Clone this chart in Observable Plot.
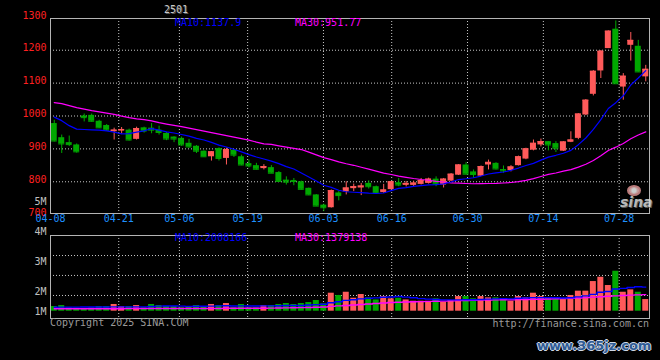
<!DOCTYPE html>
<html><head><meta charset="utf-8">
<script src="https://cdn.jsdelivr.net/npm/d3@7"></script>
<script src="https://cdn.jsdelivr.net/npm/@observablehq/plot@0.6"></script>
<style>
html,body{margin:0;padding:0;background:#000;}
#wrap{position:relative;width:660px;height:360px;background:#000;overflow:hidden;}
#wrap svg{position:absolute;left:0;}
.lbl{position:absolute;font:10px "DejaVu Sans Mono",monospace;line-height:10px;white-space:nowrap;}
</style></head><body><div id="wrap"></div>
<script>
// ---- data ----
const dates = ["04-08","04-09","04-10","04-11","04-14","04-15","04-16","04-17","04-18","04-21",
"04-22","04-23","04-24","04-25","04-28","04-29","04-30","05-06","05-07","05-08",
"05-09","05-12","05-13","05-14","05-15","05-16","05-19","05-20","05-21","05-22",
"05-23","05-26","05-27","05-28","05-29","05-30","06-03","06-04","06-05","06-06",
"06-09","06-10","06-11","06-12","06-13","06-16","06-17","06-18","06-19","06-20",
"06-23","06-24","06-25","06-26","06-27","06-30","07-01","07-02","07-03","07-04",
"07-07","07-08","07-09","07-10","07-11","07-14","07-15","07-16","07-17","07-18",
"07-21","07-22","07-23","07-24","07-25","07-28","07-29","07-30","07-31","08-01"];
const open = [977,934,919,912,1000,1002,984,971,952,954,
957,929,964,963,957,947,936,932,917,908,
893,876,901,871,896,876,855,849,840,843,
828,805,804,800,780,760,729,721,766,769,
779,781,795,785,767,776,797,789,789,792,
795,808,790,802,820,851,830,817,851,856,
837,834,849,869,896,912,922,916,893,920,
932,1003,1066,1137,1205,1264,1088,1215,1212,1119];
const high = [987,942,939,915,1006,1006,987,974,963,965,
960,966,966,977,969,950,937,936,929,910,
894,892,903,902,898,881,866,856,852,849,
831,815,810,802,781,761,732,775,770,800,
793,795,803,787,792,801,810,801,802,810,
811,815,810,825,852,858,836,848,866,858,
848,849,878,902,927,930,922,922,922,952,
1007,1050,1138,1199,1259,1289,1129,1254,1230,1154];
const low = [921,886,907,887,982,981,962,954,927,945,
924,927,948,946,942,925,919,908,902,886,
875,863,863,851,874,849,842,836,836,825,
800,790,788,775,758,725,709,720,742,760,
770,758,778,766,765,775,785,784,783,790,
793,785,781,801,819,822,810,816,836,836,
826,830,848,867,894,906,894,889,892,919,
928,1001,1061,1114,1205,1097,1048,1167,1133,1104];
const close = [924,915,913,891,995,984,964,957,957,959,
927,962,954,957,950,930,930,912,906,893,
876,891,871,898,881,851,848,838,846,826,
801,799,801,777,760,726,721,773,758,781,
785,787,785,767,775,800,790,795,796,804,
808,793,808,823,851,823,822,846,859,839,
833,845,876,900,917,922,912,902,921,927,
1006,1048,1136,1197,1258,1098,1121,1230,1134,1142];
const ma10 = [996.5,985.9,970.7,960,959,958,957,954.6,951,945.9,
946.2,950.9,955.0,961.6,957.1,951.7,948.3,943.8,938.7,932.1,
927.0,919.9,911.6,905.7,898.8,890.9,882.7,875.3,869.3,862.6,
855.1,845.9,838.9,826.8,814.7,802.2,789.5,783.0,774.2,769.7,
768.1,766.9,765.3,764.3,765.8,773.2,780.1,782.3,786.1,788.4,
790.7,791.3,793.6,799.2,806.8,809.1,812.3,817.4,823.7,827.2,
829.7,834.9,841.7,849.4,856.0,865.9,874.9,880.5,886.7,895.5,
912.8,933.1,959.1,988.8,1022.9,1040.5,1061.4,1094.2,1115.5,1137.9];
const ma30 = [1040.6,1037.5,1031.4,1025.4,1020.8,1016.3,1012.6,1008.7,1005,999.6,
995,991.4,988.9,985.3,979.8,975.3,971.3,967.7,963.1,958.6,
954,949.4,944.9,940.3,935.8,931.2,926.7,920.6,915.4,913.5,
909.4,905.6,901.8,898.0,890.2,881.6,873.5,867.4,860.7,854.8,
850.1,844.2,838.6,832.3,826.4,822.1,817.4,813.5,809.9,806.9,
804.6,801.4,799.3,796.8,795.8,794.8,794.0,794.2,794.7,795.1,
796.2,797.7,800.2,804.3,809.5,816.1,822.4,826.7,832.2,837.0,
844.4,853.1,864.8,879.1,895.2,905.2,916.2,930.7,942.0,951.77];
// volume in millions
const volume = [.39,.47,.28,.25,.19,.28,.39,.39,.56,.39,
.39,.47,.28,.56,.47,.39,.39,.28,.39,.47,
.39,.56,.47,.64,.28,.56,.28,.28,.47,.47,
.56,.64,.56,.64,.72,.89,.61,1.50,1.31,1.58,
1.08,1.39,1.11,.94,1.22,1.03,1.08,.94,.83,.83,
.75,1.03,.75,.89,1.22,1.22,1.03,1.22,1.11,1.11,
.94,.83,1.22,1.11,1.50,1.22,1.08,1.03,.97,1.31,
1.67,1.67,2.47,2.83,2.14,3.33,1.58,1.78,1.58,.97];
const volMa10 = [.33,.34,.34,.34,.35,.35,.35,.35,.36,.36,
.36,.36,.36,.39,.42,.43,.43,.42,.40,.41,
.41,.42,.44,.45,.43,.44,.43,.43,.44,.44,
.46,.47,.47,.47,.52,.55,.58,.71,.79,.90,
.95,1.03,1.08,1.11,1.16,1.18,1.22,1.17,1.12,1.05,
1.01,.98,.94,.94,.94,.95,.95,.98,1.01,1.03,
1.05,1.03,1.08,1.10,1.13,1.13,1.13,1.12,1.10,1.12,
1.19,1.28,1.40,1.58,1.64,1.85,1.90,1.98,2.04,2.008166];
const volMa30 = [.21,.21,.21,.21,.21,.21,.21,.21,.21,.21,
.22,.22,.22,.22,.22,.22,.22,.22,.22,.22,
.23,.23,.23,.24,.24,.24,.25,.25,.25,.26,
.27,.28,.29,.30,.31,.33,.35,.40,.44,.48,
.52,.56,.60,.64,.68,.72,.75,.77,.79,.80,
.82,.83,.84,.86,.88,.89,.90,.92,.93,.94,
.95,.96,.97,.98,.99,1.00,1.02,1.04,1.05,1.07,
1.10,1.13,1.17,1.21,1.25,1.28,1.31,1.34,1.36,1.379138];
const priceTicks = [1300,1200,1100,1000,900,800,700];
const priceGrid = [800,900,1000,1100,1200];
const dateTicks = ["04-08","04-21","05-06","05-19","06-03","06-16","06-30","07-14","07-28"];
const volTickLabels = ["5M","4M","3M","2M","1M"];
const volTickAt = [9.14,6.64,4.14,1.64,-0.03];   // where each label sits on the picture (volume units)
const volGrid = [4.64,2.98,1.31];
const title = "2501";

// ---- build ----
const N = dates.length;
const RED = "#ff5a5a", GREEN = "#00a800", BLUE = "#0000ff", MAG = "#ff00ff";
const GRID = "#c8c8c8", FRAME = "#b4b4b4", FONT = "DejaVu Sans Mono";
const rows = dates.map((d, i) => ({
  i, date: d, open: open[i], high: high[i], low: low[i], close: close[i],
  vol: volume[i], ma10: ma10[i], ma30: ma30[i], vma10: volMa10[i], vma30: volMa30[i],
  up: close[i] >= open[i]
}));
const col = d => d.up ? RED : GREEN;
// Sina spaces the date grid over N-1 divisions while candles use N slots
const gridX = k => k * N / (N - 1) - 0.5;
const dateRows = dateTicks.map(t => ({label: t, x: gridX(dates.indexOf(t))}));
const dot = {stroke: GRID, strokeDasharray: "1,2", strokeWidth: 1};

const pricePlot = Plot.plot({
  width: 660, height: 230,
  marginLeft: 50, marginRight: 11, marginTop: 18, marginBottom: 17,
  style: {background: "transparent", overflow: "visible", fontFamily: FONT},
  x: {domain: [-0.5, N - 0.5], axis: null},
  y: {domain: [703.5, 1296.5], axis: null},
  marks: [
    Plot.ruleY(priceGrid, dot),
    Plot.ruleX(dateRows.slice(1), {x: "x", ...dot}),
    Plot.ruleX(rows, {x: "i", y1: "low", y2: "high", stroke: col}),
    Plot.rect(rows, {x1: d => d.i - 0.4, x2: d => d.i + 0.4, y1: "open", y2: "close", fill: col}),
    Plot.ruleY(rows, {x1: d => d.i - 0.4, x2: d => d.i + 0.4, y: "close", stroke: col}),
    Plot.line(rows, {x: "i", y: "ma30", stroke: MAG, strokeWidth: 1.2}),
    Plot.line(rows, {x: "i", y: "ma10", stroke: BLUE, strokeWidth: 1.2}),
    Plot.frame({stroke: FRAME}),
    Plot.text(priceTicks, {y: d => d, text: d => String(d), frameAnchor: "left", dx: -4, dy: -2,
      textAnchor: "end", fill: "#ff2020", fontFamily: FONT, fontSize: 10}),
    Plot.text(dateRows, {x: "x", text: "label", frameAnchor: "bottom", dy: 8,
      fill: "#1e90ff", fontFamily: FONT, fontSize: 10})
  ]
});
pricePlot.style.top = "0px";

const volPlot = Plot.plot({
  width: 660, height: 170,
  marginLeft: 50, marginRight: 11, marginTop: 45, marginBottom: 42,
  style: {background: "transparent", overflow: "visible", fontFamily: FONT},
  x: {domain: [-0.5, N - 0.5], axis: null},
  y: {domain: [-0.608, 6.308], axis: null},
  marks: [
    Plot.ruleY(volGrid, dot),
    Plot.ruleX(dateRows.slice(1), {x: "x", ...dot}),
    Plot.rect(rows, {x1: d => d.i - 0.4, x2: d => d.i + 0.4, y1: 0, y2: "vol", fill: col}),
    Plot.line(rows, {x: "i", y: "vma30", stroke: MAG, strokeWidth: 1.4, curve: "step"}),
    Plot.line(rows, {x: "i", y: "vma10", stroke: BLUE, strokeWidth: 1.4, curve: "step"}),
    Plot.frame({stroke: FRAME}),
    Plot.text(volTickLabels, {y: (d, i) => volTickAt[i], text: d => d, frameAnchor: "left", dx: -4,
      textAnchor: "end", fill: "#c0c0c0", fontFamily: FONT, fontSize: 10})
  ]
});
volPlot.style.top = "190px";

const wrap = document.getElementById("wrap");
wrap.appendChild(pricePlot);
wrap.appendChild(volPlot);

function label(text, css) {
  const el = document.createElement("div");
  el.className = "lbl";
  el.textContent = text;
  Object.assign(el.style, css);
  wrap.appendChild(el);
  return el;
}
const last = N - 1;
label(title, {left: "164px", top: "5px", color: "#c8c8c8", textShadow: "1px 1px 0 #555"});
label("MA10:" + ma10[last].toFixed(1), {left: "175px", top: "18px", color: BLUE});
label("MA30:" + ma30[last].toFixed(2), {left: "295px", top: "18px", color: MAG});
label("MA10:" + Math.round(volMa10[last] * 1e6), {left: "175px", top: "233px", color: BLUE});
label("MA30:" + Math.round(volMa30[last] * 1e6), {left: "295px", top: "233px", color: MAG});
label("Copyright 2025 SINA.COM", {left: "50px", top: "318px", color: "#9a9a9a"});
label("http://finance.sina.com.cn", {right: "11px", top: "319px", color: "#9a9a9a"});
// sina logo watermark
const eye = document.createElement("div");
Object.assign(eye.style, {position: "absolute", left: "627px", top: "185px", width: "10px", height: "7px",
  border: "2px solid #e89a9a", borderRadius: "50%", opacity: "0.8",
  background: "radial-gradient(circle,#fff 30%,#f6c0c0 60%)"});
wrap.appendChild(eye);
label("sina", {left: "620px", top: "195px", color: "#d8d8d8", opacity: "0.85",
  font: "italic bold 14px 'DejaVu Sans',sans-serif", lineHeight: "14px", textShadow: "1px 1px 0 #666"});
label("www.365jz.com", {left: "537px", top: "339px", color: "#2f5c96",
  font: "bold 13px 'DejaVu Sans',sans-serif", lineHeight: "14px",
  textShadow: "1px 0 0 #cfd8e6,-1px 0 0 #cfd8e6,0 1px 0 #cfd8e6,0 -1px 0 #cfd8e6"});
</script>
</body></html>
